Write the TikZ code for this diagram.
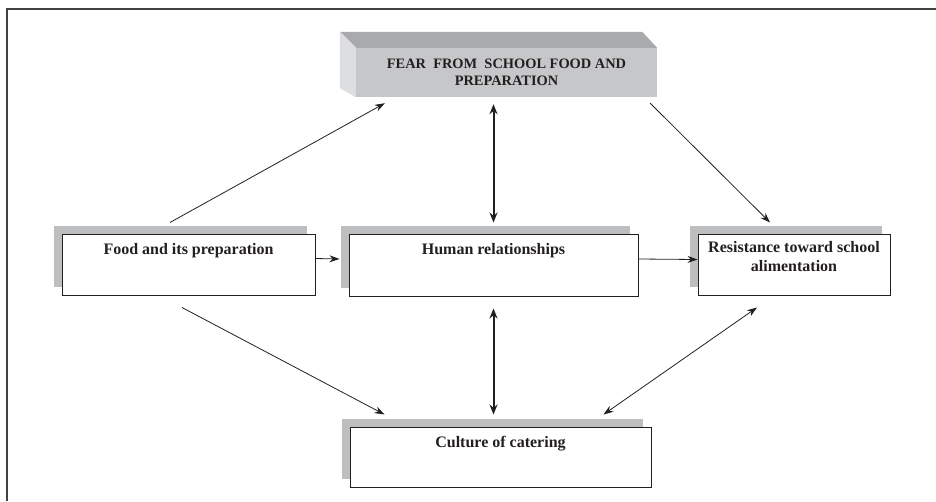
\documentclass[tikz,border=0pt]{standalone}
\usepackage{fontspec}
\setmainfont{Liberation Serif}
\usepackage{xcolor}
\definecolor{ink}{RGB}{35,31,32}
\definecolor{shadowgray}{RGB}{189,190,192}
\definecolor{topface}{RGB}{169,170,172}
\definecolor{frontface}{RGB}{198,199,201}
\definecolor{sideface}{RGB}{221,222,224}
\usetikzlibrary{calc}
\usetikzlibrary{shadows}
\usetikzlibrary{arrows.meta}

\tikzset{
  themebox/.style={draw=ink,line width=1pt,fill=white,rectangle,inner sep=0,
    general shadow={fill=shadowgray,draw=none,shadow xshift=-8pt,shadow yshift=8pt}},
  boxtext/.style={anchor=north,inner sep=0,yshift=-10pt,align=center,
    font=\fontsize{16}{19}\selectfont\bfseries,text=ink},
  link/.style={draw=ink,line width=0.8pt,-{Stealth[length=10pt,width=7pt]}},
  duallink/.style={draw=ink,line width=0.8pt,{Stealth[length=10pt,width=7pt]}-{Stealth[length=10pt,width=7pt]}},
  biglink/.style={draw=ink,line width=2pt,{Stealth[length=10pt,width=8pt]}-{Stealth[length=10pt,width=8pt]}},
}

\begin{document}
\begin{tikzpicture}[x=1pt,y=-1pt]
\useasboundingbox (0,0) rectangle (936,501);
%frame
\draw [ink!85,line width=2pt] (936,9) -- (7,9) -- (7,501);

%fear block
\node (fear) at (506.5,72.5) [fill=frontface,inner sep=0,minimum width=301pt,minimum height=49pt,
  align=center,text=ink,font=\fontsize{14.4}{17.3}\selectfont\bfseries] {FEAR\ \ FROM\ \ SCHOOL FOOD AND\\PREPARATION};
\fill [topface] ($(fear.north west)+(-16,-16)$) -- ($(fear.north east)+(-15,-16)$) -- (fear.north east) -- (fear.north west) -- cycle;
\fill [sideface] ($(fear.north west)+(-16,-16)$) -- (fear.north west) -- (fear.south west) -- ($(fear.south west)+(-16,-9)$) -- cycle;

%theme boxes
\node (food) at (188.5,264.5) [themebox,minimum width=253pt,minimum height=61pt,
  label={[boxtext]north:Food and its preparation}] {};
\node (human) at (493.5,265) [themebox,minimum width=289pt,minimum height=62pt,
  label={[boxtext]north:Human relationships}] {};
\node (resist) at (794,264.5) [themebox,minimum width=192pt,minimum height=61pt,
  label={[boxtext,yshift=2pt]north:{Resistance toward school\\alimentation}}] {};
\node (culture) at (500.5,457) [themebox,minimum width=301pt,minimum height=60pt,
  label={[boxtext]north:Culture of catering}] {};

%links to and from the fear block
\draw [link] ($(food.north)+(-18.5,-11)$) -- ($(fear.south west)+(29,6)$);
\draw [biglink] ($(human.north|-fear.south)+(0,7)$) -- ($(human.north)+(0,-11)$);
\draw [link] ($(fear.south east)+(-7,6)$) -- ($(resist.north)+(-24,-11)$);

%links along the middle row
\draw [link] ($(food.east)+(0,-6)$) -- ($(human.west)+(-9,-6)$);
\draw [link] ($(human.east)+(0,-6)$) -- ($(resist.west)+(0,-5)$);

%links to the culture box
\draw [link] ($(food.south)+(-6.5,12)$) -- ($(culture.north west)+(35,-12)$);
\draw [biglink] ($(human.south)+(0,12)$) -- ($(human.south|-culture.north)+(0,-12)$);
\draw [duallink] ($(resist.south)+(-37,12)$) -- ($(culture.north east)+(-48,-12)$);

\end{tikzpicture}
\end{document}
